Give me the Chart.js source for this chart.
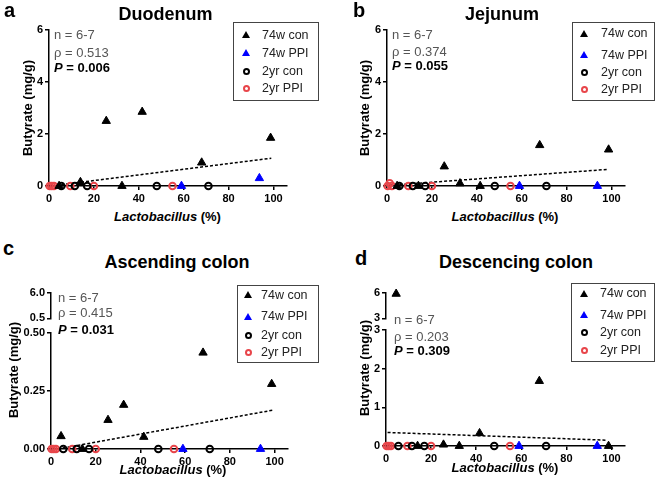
<!DOCTYPE html>
<html>
<head>
<meta charset="utf-8">
<script src="https://cdn.jsdelivr.net/npm/chart.js"></script>
<style>
body { margin:0; background:#fff; width:656px; height:485px; position:relative; overflow:hidden; font-family:"Liberation Sans", Arial, sans-serif; }
canvas { position:absolute; }
.t { position:absolute; white-space:nowrap; line-height:1; }
.letter { font-weight:bold; font-size:20px; }
.title { font-weight:bold; font-size:18px; transform:translateX(-50%); }
.stat { font-size:13px; color:#555; }
.stat.p { color:#000; font-weight:bold; }
.ylab { font-weight:bold; font-size:13px; transform:translate(-50%,-50%) rotate(-90deg); }
.xlab { font-weight:bold; font-size:13px; transform:translateX(-50%); }
.legend { position:absolute; border:1px solid #444; box-sizing:border-box; }
.ltxt { font-size:12.5px; color:#222; }
</style>
</head>
<body>
<script>
// Lactobacillus (%) por grupo (mismos animales en los 4 segmentos)
const x74wCon = [4.5, 14, 25.5, 32.5, 41.5, 68, 98.7];
const x74wPPI = [59, 93.7];
const x2yrCon = [5.5, 11.5, 17, 48, 71];
const x2yrPPI = [0.3, 1.2, 2.2, 9.5, 20, 55];

// Butirato (mg/g) - Duodeno
const duo74wCon = [0, 0.15, 2.5, 0, 2.85, 0.9, 1.85];
const duo74wPPI = [0, 0.3];
const duo2yrCon = [0, 0, 0, 0, 0];
const duo2yrPPI = [0, 0, 0, 0, 0, 0];
const duoFitX = [1, 99];
const duoFitY = [0, 1.07];

// Yeyuno
const jej74wCon = [0, 0, 0.75, 0.1, 0, 1.57, 1.4];
const jej74wPPI = [0, 0];
const jej2yrCon = [0, 0, 0, 0, 0];
const jej2yrPPI = [0, 0.1, 0, 0, 0, 0];
const jejFitX = [1, 98.5];
const jejFitY = [0.026, 0.64];

// Colon ascendente
const asc74wCon = [0.055, 0, 0.125, 0.19, 0.052, 0.415, 0.28];
const asc74wPPI = [0, 0];
const asc2yrCon = [0, 0, 0, 0, 0];
const asc2yrPPI = [0, 0, 0, 0, 0, 0];
const ascFitX = [3, 99];
const ascFitY = [0, 0.167];

// Colon descendente
const desc74wCon = [5.9, 0, 0.035, 0, 0.33, 1.68, 0];
const desc74wPPI = [0, 0];
const desc2yrCon = [0, 0, 0, 0, 0];
const desc2yrPPI = [0, 0, 0, 0, 0, 0];
const descFitX = [0.7, 98.2];
const descFitY = [0.35, 0.15];

const xTicks = [0, 20, 40, 60, 80, 100];
const seriesNames = ['74w con', '74w PPI', '2yr con', '2yr PPI'];
const seriesColors = ['#000000', '#0000ff', '#000000', '#e8454a'];

const FONT = '"Liberation Sans", Arial, sans-serif';

//Función para crear el texto en HTML
const addText = (cls, html, left, top) => {
    const d = document.createElement('div');
    d.className = 't ' + cls;
    d.innerHTML = html;
    d.style.left = left + 'px';
    d.style.top = top + 'px';
    document.body.appendChild(d);
}

//Construye los datasets de un panel, filtrando por rango de y
const buildDatasets = (ys, fit, lo, hi, withFit) => {
    const pts = (xs, vals) => xs.map((x, i) => ({ x: x, y: vals[i] })).filter(p => p.y >= lo && p.y <= hi);
    const sets = [
        { data: pts(x74wCon, ys[0]), pointStyle: 'triangle', pointRadius: 4.8, backgroundColor: seriesColors[0], borderColor: seriesColors[0], borderWidth: 1, order: 1 },
        { data: pts(x74wPPI, ys[1]), pointStyle: 'triangle', pointRadius: 4.8, backgroundColor: seriesColors[1], borderColor: seriesColors[1], borderWidth: 1, order: 2 },
        { data: pts(x2yrCon, ys[2]), pointStyle: 'circle', pointRadius: 3.3, backgroundColor: 'rgba(0,0,0,0)', borderColor: seriesColors[2], borderWidth: 2, order: 3 },
        { data: pts(x2yrPPI, ys[3]), pointStyle: 'circle', pointRadius: 3.3, backgroundColor: 'rgba(0,0,0,0)', borderColor: seriesColors[3], borderWidth: 2, order: 4 }
    ];
    if (withFit) {
        sets.push({ data: fit[0].map((x, i) => ({ x: x, y: fit[1][i] })), showLine: true, borderDash: [3, 2], borderColor: '#000', borderWidth: 1.5, pointRadius: 0, order: 5 });
    }
    sets.forEach(s => s.clip = false);
    return sets;
}

//Crea un gráfico en una posición fija de la página
const makeChart = (box, area, yMin, yMax, yTicks, dec, showX, datasets) => {
    const cv = document.createElement('canvas');
    cv.width = box.w; cv.height = box.h;
    cv.style.left = box.x + 'px'; cv.style.top = box.y + 'px';
    cv.style.width = box.w + 'px'; cv.style.height = box.h + 'px';
    document.body.appendChild(cv);
    const axisGrid = { display: true, drawOnChartArea: false, drawTicks: true, tickLength: 4, color: '#000', lineWidth: 1.5 };
    const tickFont = { family: FONT, size: 11, weight: 'bold' };
    new Chart(cv.getContext('2d'), {
        type: 'scatter',
        data: { datasets: datasets },
        options: {
            responsive: false,
            animation: false,
            layout: { padding: { left: 0, top: area.t - box.y, right: box.x + box.w - area.r, bottom: showX ? 0 : box.y + box.h - area.b } },
            plugins: { legend: { display: false }, tooltip: { enabled: false }, title: { display: false } },
            scales: {
                x: {
                    type: 'linear', min: 0, max: 106, display: showX,
                    afterBuildTicks: s => { s.ticks = xTicks.map(v => ({ value: v })) },
                    afterFit: s => { if (showX) s.height = box.y + box.h - area.b },
                    grid: axisGrid,
                    border: { display: true, color: '#000', width: 1.5 },
                    ticks: { font: tickFont, color: '#000', padding: 2, maxRotation: 0 }
                },
                y: {
                    type: 'linear', min: yMin, max: yMax,
                    afterBuildTicks: s => { s.ticks = yTicks.map(v => ({ value: v })) },
                    afterFit: s => { s.width = area.l - box.x },
                    grid: axisGrid,
                    border: { display: true, color: '#000', width: 1.5 },
                    ticks: { font: tickFont, color: '#000', padding: 2, callback: v => Number(v).toFixed(dec) }
                }
            }
        }
    });
}

//Leyenda en HTML
const addLegend = (L) => {
    const b = document.createElement('div');
    b.className = 'legend';
    b.style.left = L.x + 'px'; b.style.top = L.y + 'px';
    b.style.width = L.w + 'px'; b.style.height = L.h + 'px';
    document.body.appendChild(b);
    seriesNames.forEach((name, i) => {
        const s = document.createElement('div');
        s.style.position = 'absolute';
        if (i < 2) {
            s.style.width = '0'; s.style.height = '0';
            s.style.borderLeft = '4px solid transparent';
            s.style.borderRight = '4px solid transparent';
            s.style.borderBottom = '7px solid ' + seriesColors[i];
            s.style.left = (L.sx - 4) + 'px'; s.style.top = (L.rows[i] - 4) + 'px';
        } else {
            s.style.width = '3px'; s.style.height = '3px';
            s.style.border = '2px solid ' + seriesColors[i];
            s.style.borderRadius = '50%';
            s.style.left = (L.sx - 3.5) + 'px'; s.style.top = (L.rows[i] - 3.5) + 'px';
        }
        document.body.appendChild(s);
        addText('ltxt', name, L.tx, L.rows[i] - 6.5);
    });
}

// Panel a - Duodenum
makeChart({ x: 0, y: 0, w: 326, h: 208 }, { l: 49, t: 30, r: 287, b: 186 }, 0, 6, [0, 2, 4, 6], 0, true,
    buildDatasets([duo74wCon, duo74wPPI, duo2yrCon, duo2yrPPI], [duoFitX, duoFitY], 0, 6, true));
// Panel b - Jejunum
makeChart({ x: 330, y: 0, w: 326, h: 208 }, { l: 387, t: 30, r: 625, b: 186 }, 0, 6, [0, 2, 4, 6], 0, true,
    buildDatasets([jej74wCon, jej74wPPI, jej2yrCon, jej2yrPPI], [jejFitX, jejFitY], 0, 6, true));
// Panel c - Ascending colon (eje cortado)
makeChart({ x: 0, y: 283, w: 326, h: 44 }, { l: 51, t: 293, r: 288, b: 320 }, 0.5, 6, [0.5, 6], 1, false,
    buildDatasets([asc74wCon, asc74wPPI, asc2yrCon, asc2yrPPI], [ascFitX, ascFitY], 0.5001, 6, false));
makeChart({ x: 0, y: 323, w: 326, h: 148 }, { l: 51, t: 333, r: 288, b: 449 }, 0, 0.5, [0, 0.25, 0.5], 2, true,
    buildDatasets([asc74wCon, asc74wPPI, asc2yrCon, asc2yrPPI], [ascFitX, ascFitY], 0, 0.5, true));
// Panel d - Descencing colon (eje cortado)
makeChart({ x: 330, y: 283, w: 326, h: 44 }, { l: 386, t: 293, r: 625, b: 320 }, 3, 6, [3, 6], 0, false,
    buildDatasets([desc74wCon, desc74wPPI, desc2yrCon, desc2yrPPI], [descFitX, descFitY], 3.0001, 6, false));
makeChart({ x: 330, y: 320, w: 326, h: 148 }, { l: 386, t: 330, r: 625, b: 446 }, 0, 3, [0, 1, 2, 3], 0, true,
    buildDatasets([desc74wCon, desc74wPPI, desc2yrCon, desc2yrPPI], [descFitX, descFitY], 0, 3, true));

// Letras y títulos
addText('letter', 'a', 4, 0);
addText('letter', 'b', 353, 0);
addText('letter', 'c', 3, 238);
addText('letter', 'd', 355, 248);
addText('title', 'Duodenum', 165.5, 5);
addText('title', 'Jejunum', 502, 5);
addText('title', 'Ascending colon', 177, 253);
addText('title', 'Descencing colon', 516, 253);

// Estadísticos
const stats = [
    { x: 54, tops: [28, 46, 61], rho: '0.513', p: '0.006' },
    { x: 392, tops: [28, 45, 59], rho: '0.374', p: '0.055' },
    { x: 58, tops: [291, 306, 323], rho: '0.415', p: '0.031' },
    { x: 394, tops: [313, 330, 344], rho: '0.203', p: '0.309' }
];
stats.forEach(s => {
    addText('stat', 'n = 6-7', s.x, s.tops[0]);
    addText('stat', '\u03c1 = ' + s.rho, s.x, s.tops[1]);
    addText('stat p', '<i>P</i> = ' + s.p, s.x, s.tops[2]);
});

// Títulos de ejes
const axes = [
    { yx: 27, yy: 108, xx: 167.5, xy: 210 },
    { yx: 364, yy: 108, xx: 505, xy: 210 },
    { yx: 13, yy: 370, xx: 173, xy: 463 },
    { yx: 364, yy: 368, xx: 505, xy: 461 }
];
axes.forEach(a => {
    addText('ylab', 'Butyrate (mg/g)', a.yx, a.yy);
    addText('xlab', '<i>Lactobacillus</i> (%)', a.xx, a.xy);
});

// Leyendas
addLegend({ x: 233, y: 22, w: 86, h: 79, sx: 246, tx: 262, rows: [35, 53, 71.5, 88.5] });
addLegend({ x: 572, y: 22, w: 83, h: 79, sx: 584, tx: 601, rows: [33.5, 55, 72.5, 89.5] });
addLegend({ x: 237, y: 285, w: 82, h: 78, sx: 248, tx: 261, rows: [295, 316.5, 335, 352.5] });
addLegend({ x: 571, y: 283, w: 84, h: 79, sx: 584, tx: 600, rows: [293.5, 315, 332.5, 350] });
</script>
</body>
</html>
